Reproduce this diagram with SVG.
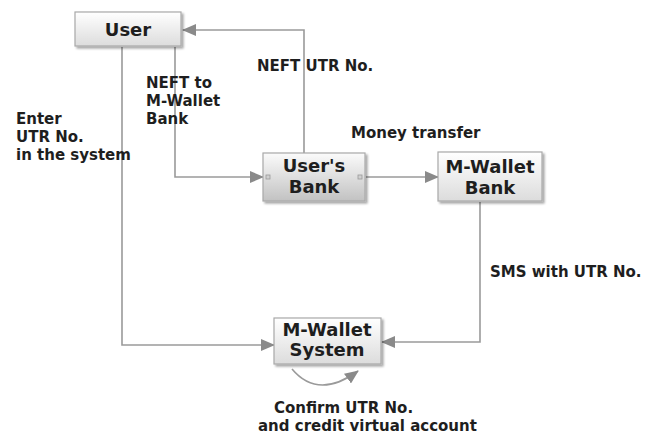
<svg xmlns="http://www.w3.org/2000/svg" width="658" height="434" viewBox="0 0 658 434">
  <style>
    .box { fill: url(#boxFill); stroke: #a8a8a8; stroke-width: 1.2; filter: url(#shadow); }
    .box.sel { fill: url(#selFill); }
    .name { font-family: "DejaVu Sans", Verdana, sans-serif; font-weight: bold; font-size: 18px; fill: #1e1e1e; text-anchor: middle; }
    .lbl { font-family: "DejaVu Sans", Verdana, sans-serif; font-weight: bold; font-size: 15px; fill: #1e1e1e; }
    .wire { fill: none; stroke: #9a9a9a; stroke-width: 1.6; marker-end: url(#head); }
    .port { fill: #d0d0d0; stroke: #9a9a9a; stroke-width: 0.8; }
  </style>
  <defs>
    <linearGradient id="boxFill" x1="0" y1="0" x2="0" y2="1">
      <stop offset="0" stop-color="#ffffff"/>
      <stop offset="1" stop-color="#dcdcdc"/>
    </linearGradient>
    <linearGradient id="selFill" x1="0" y1="0" x2="0" y2="1">
      <stop offset="0" stop-color="#fbfbfb"/>
      <stop offset="1" stop-color="#c2c2c2"/>
    </linearGradient>
    <filter id="shadow" x="-10%" y="-10%" width="125%" height="130%">
      <feDropShadow dx="2" dy="2" stdDeviation="1.2" flood-color="#000" flood-opacity="0.35"/>
    </filter>
    <marker id="head" markerWidth="14" markerHeight="12" refX="13" refY="6" orient="auto" markerUnits="userSpaceOnUse">
      <path d="M0,0 L14,6 L0,12 z" fill="#8a8a8a"/>
    </marker>
  </defs>

  <g id="connectors">
    <path class="wire" d="M304,153 V30 H183"/>
    <path class="wire" d="M175,47 V177 H263"/>
    <path class="wire" d="M122,47 V345 H274"/>
    <path class="wire" d="M366,177 H438"/>
    <path class="wire" d="M480,202 V342 H382"/>
    <path class="wire" d="M292,369 Q318,400 358,371"/>
  </g>

  <g id="user">
    <rect class="box" x="75" y="12" width="106" height="34"/>
    <text class="name" x="128" y="36">User</text>
  </g>

  <g id="users-bank">
    <rect class="box sel" x="263" y="153" width="102" height="48"/>
    <rect class="port" x="266" y="175" width="4" height="4"/>
    <rect class="port" x="358" y="175" width="4" height="4"/>
    <text class="name" x="314" y="172">User's</text>
    <text class="name" x="314" y="193">Bank</text>
  </g>

  <g id="mwallet-bank">
    <rect class="box" x="438" y="152" width="104" height="49"/>
    <text class="name" x="490" y="173">M-Wallet</text>
    <text class="name" x="490" y="194">Bank</text>
  </g>

  <g id="mwallet-system">
    <rect class="box" x="274" y="318" width="107" height="46"/>
    <text class="name" x="327" y="336">M-Wallet</text>
    <text class="name" x="327" y="356">System</text>
  </g>

  <g id="labels">
    <text class="lbl" x="257" y="71">NEFT UTR No.</text>
    <text class="lbl" x="146" y="88">NEFT to</text>
    <text class="lbl" x="146" y="106">M-Wallet</text>
    <text class="lbl" x="146" y="124">Bank</text>
    <text class="lbl" x="16" y="124">Enter</text>
    <text class="lbl" x="16" y="142">UTR No.</text>
    <text class="lbl" x="16" y="160">in the system</text>
    <text class="lbl" x="351" y="138">Money transfer</text>
    <text class="lbl" x="490" y="277">SMS with UTR No.</text>
    <text class="lbl" x="274" y="413">Confirm UTR No.</text>
    <text class="lbl" x="258" y="431">and credit virtual account</text>
  </g>
</svg>
